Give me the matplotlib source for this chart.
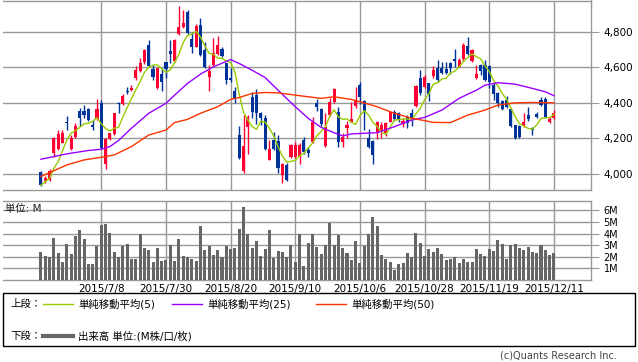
import matplotlib
matplotlib.use("Agg")
import matplotlib.pyplot as plt
from matplotlib.lines import Line2D
from matplotlib.patches import Rectangle
import numpy as np
import pandas as pd

plt.rcParams['font.family'] = ['DejaVu Sans', 'Noto Sans CJK JP']

# ---------- data (120 trading days, 2015/6/18 - 2015/12/11) ---------- #
opens = [4012, 3958, 3967, 4120, 4139, 4176, 4292, 4141, 4210, 4354,
         4354, 4363, 4275, 4311, 4397, 4057, 4195, 4225, 4400, 4395,
         4465, 4470, 4542, 4579, 4628, 4723, 4588, 4483, 4561, 4628,
         4690, 4636, 4785, 4826, 4910, 4761, 4716, 4838, 4695, 4543,
         4611, 4677, 4703, 4621, 4539, 4468, 4219, 4014, 4266, 4434,
         4444, 4344, 4313, 4079, 4191, 4188, 3997, 4052, 4096, 4096,
         4100, 4191, 4132, 4182, 4397, 4363, 4158, 4331, 4406, 4350,
         4182, 4260, 4294, 4382, 4499, 4412, 4201, 4188, 4229, 4247,
         4229, 4294, 4350, 4341, 4282, 4322, 4344, 4383, 4537, 4487,
         4509, 4550, 4593, 4593, 4589, 4626, 4649, 4602, 4649, 4718,
         4636, 4537, 4611, 4611, 4606, 4499, 4453, 4412, 4415, 4363,
         4275, 4270, 4270, 4331, 4257, 4335, 4415, 4419, 4294, 4313]
highs = [4015, 3990, 4027, 4210, 4247, 4247, 4326, 4219, 4289, 4369,
         4388, 4369, 4302, 4423, 4415, 4201, 4233, 4345, 4405, 4450,
         4490, 4500, 4605, 4654, 4705, 4751, 4611, 4597, 4598, 4628,
         4755, 4757, 4942, 4923, 4919, 4798, 4841, 4879, 4742, 4611,
         4765, 4774, 4714, 4625, 4593, 4487, 4270, 4331, 4331, 4462,
         4475, 4350, 4331, 4191, 4234, 4219, 4061, 4061, 4170, 4180,
         4172, 4210, 4154, 4318, 4419, 4369, 4341, 4425, 4481, 4378,
         4229, 4300, 4406, 4487, 4518, 4415, 4251, 4191, 4300, 4294,
         4294, 4355, 4359, 4350, 4313, 4331, 4363, 4500, 4583, 4555,
         4513, 4606, 4640, 4630, 4630, 4630, 4705, 4654, 4736, 4770,
         4705, 4611, 4617, 4640, 4611, 4518, 4462, 4415, 4438, 4369,
         4275, 4275, 4341, 4374, 4266, 4350, 4432, 4432, 4326, 4359]
lows = [3935, 3949, 3958, 4094, 4135, 4172, 4245, 4137, 4202, 4267,
        4313, 4300, 4245, 4303, 4143, 4029, 4190, 4220, 4340, 4390,
        4450, 4467, 4531, 4575, 4620, 4606, 4531, 4477, 4467, 4538,
        4621, 4630, 4780, 4823, 4788, 4681, 4711, 4664, 4593, 4468,
        4606, 4668, 4658, 4508, 4518, 4400, 4085, 4008, 4110, 4313,
        4281, 4275, 4137, 4076, 4135, 4005, 3949, 3958, 4090, 4088,
        4055, 4113, 4098, 4176, 4356, 4270, 4154, 4326, 4400, 4154,
        4150, 4201, 4294, 4369, 4393, 4247, 4145, 4057, 4195, 4201,
        4215, 4290, 4300, 4290, 4264, 4257, 4270, 4375, 4444, 4481,
        4412, 4537, 4518, 4561, 4561, 4561, 4602, 4600, 4636, 4668,
        4630, 4533, 4556, 4522, 4486, 4415, 4378, 4359, 4369, 4266,
        4195, 4205, 4262, 4300, 4219, 4313, 4382, 4313, 4289, 4307]
closes = [3937, 3975, 4014, 4201, 4225, 4232, 4286, 4204, 4270, 4317,
          4331, 4303, 4262, 4367, 4147, 4199, 4231, 4341, 4395, 4438,
          4460, 4485, 4587, 4624, 4695, 4609, 4545, 4593, 4518, 4592,
          4677, 4752, 4826, 4847, 4792, 4711, 4832, 4668, 4602, 4580,
          4680, 4725, 4662, 4531, 4531, 4419, 4089, 4158, 4318, 4350,
          4341, 4313, 4141, 4139, 4141, 4033, 4055, 3964, 4163, 4165,
          4162, 4126, 4117, 4294, 4378, 4281, 4262, 4406, 4475, 4182,
          4210, 4275, 4309, 4415, 4430, 4350, 4154, 4104, 4294, 4275,
          4289, 4350, 4307, 4303, 4300, 4286, 4313, 4492, 4457, 4543,
          4449, 4584, 4528, 4565, 4568, 4593, 4636, 4643, 4723, 4677,
          4695, 4561, 4580, 4528, 4518, 4449, 4401, 4363, 4374, 4270,
          4201, 4210, 4294, 4307, 4247, 4322, 4387, 4318, 4307, 4341]
# volume in millions
volume = [2.44, 2.07, 1.98, 3.65, 2.33, 1.58, 3.10, 2.24, 3.82, 4.34,
          3.56, 1.41, 1.41, 2.96, 4.74, 4.83, 4.05, 2.41, 1.95, 2.96,
          3.10, 1.84, 1.84, 3.97, 2.79, 2.59, 1.58, 2.79, 1.67, 1.72,
          3.02, 1.64, 3.56, 2.07, 1.98, 1.84, 1.64, 4.66, 2.59, 2.96,
          2.16, 2.59, 1.95, 2.96, 2.67, 2.79, 4.43, 6.29, 3.97, 2.79,
          3.36, 2.07, 2.67, 4.34, 1.93, 2.50, 2.41, 2.01, 3.02, 1.55,
          3.97, 1.21, 3.19, 3.97, 2.84, 2.24, 3.02, 4.91, 3.02, 3.88,
          2.79, 2.33, 1.72, 3.36, 1.44, 2.96, 3.97, 5.43, 4.66, 2.16,
          1.81, 1.55, 0.89, 1.38, 1.47, 2.33, 1.98, 4.02, 3.19, 2.07,
          2.67, 2.41, 2.76, 2.24, 1.72, 1.81, 1.98, 1.47, 1.81, 1.55,
          1.55, 2.67, 2.24, 2.07, 2.67, 2.50, 3.45, 3.10, 1.81, 3.02,
          3.10, 2.76, 2.59, 2.84, 2.41, 2.33, 3.02, 2.59, 2.16, 2.33]

# moving averages 25/50 (day index, value)
ma25_day = [0, 6, 11, 14, 16, 18, 21, 25, 29, 31, 34, 37, 40, 44, 46, 49, 52, 55, 59,
            62, 65, 68, 70, 72, 75, 78, 82, 86, 89, 93, 97, 101, 103, 106, 110, 114, 117, 119]
ma25 = [4083, 4113, 4132, 4139, 4154, 4188, 4257, 4341, 4397, 4443, 4509, 4561, 4602,
        4643, 4621, 4583, 4542, 4471, 4378, 4313, 4262, 4232, 4214, 4225, 4229, 4232,
        4266, 4303, 4318, 4359, 4425, 4471, 4499, 4513, 4505, 4481, 4462, 4440]
ma50_day = [0, 6, 10, 14, 17, 21, 25, 29, 31, 34, 37, 41, 44, 46, 49, 52, 55, 59, 62,
            65, 68, 72, 74, 78, 82, 86, 89, 91, 95, 99, 103, 106, 110, 114, 119]
ma50 = [3986, 4051, 4079, 4094, 4107, 4154, 4219, 4247, 4289, 4307, 4341, 4378, 4419,
        4430, 4453, 4458, 4456, 4443, 4434, 4425, 4434, 4419, 4406, 4378, 4341, 4313,
        4300, 4290, 4289, 4331, 4359, 4387, 4400, 4402, 4400]

tick_labels = ["2015/7/8", "2015/7/30", "2015/8/20", "2015/9/10",
               "2015/10/6", "2015/10/28", "2015/11/19", "2015/12/11"]
price_ticks = [4000, 4200, 4400, 4600, 4800]
vol_ticks = [1, 2, 3, 4, 5, 6]

# ---------- styles ---------- #
UP, DOWN = '#ff0033', '#003399'
GRID = '#999999'
C5, C25, C50 = '#99cc00', '#9900ff', '#ff3300'

n = len(closes)
x = np.arange(n)
o, h, l, c = map(np.array, (opens, highs, lows, closes))
ma5 = pd.Series(closes).rolling(5, min_periods=1).mean()

W, H = 638, 362
fig = plt.figure(figsize=(W / 100, H / 100), dpi=100)


def px_axes(x0, y0, x1, y1):
    return fig.add_axes([x0 / W, 1 - y1 / H, (x1 - x0) / W, (y1 - y0) / H])


def fx(px):
    return px / W


def fy(py):
    return 1 - py / H


ax = px_axes(3, 0.5, 591, 190)
axv = px_axes(3, 201, 591, 280)
xticks = np.arange(14, n, 15)

for a in (ax, axv):
    a.set_xlim(-8.8, 127.6)
    a.set_xticks(xticks)
    a.grid(True, color=GRID, lw=1)
    a.set_axisbelow(True)
    a.spines['left'].set_visible(False)
    for s in ('top', 'right', 'bottom'):
        a.spines[s].set_color(GRID)
        a.spines[s].set_linewidth(1)
    a.yaxis.tick_right()
    a.tick_params(axis='y', length=6, color=GRID, pad=3, labelsize=7.5)
    a.tick_params(axis='x', length=0)

# ---------- candles ---------- #
up = c >= o
col = np.where(up, UP, DOWN)
ax.vlines(x, l, h, colors=col, lw=1, zorder=2)
body = np.maximum(np.abs(c - o), 3)
ax.bar(x, body, bottom=np.minimum(o, c), width=0.72, color=col, lw=0, zorder=3)

ax.plot(x, ma5, color=C5, lw=1, zorder=4)
ax.plot(ma25_day, ma25, color=C25, lw=1, zorder=4)
ax.plot(ma50_day, ma50, color=C50, lw=1, zorder=4)

ax.set_ylim(3910, 4975)
ax.set_yticks(price_ticks)
ax.set_yticklabels([f"{v:,}" for v in price_ticks])
ax.set_xticklabels([])

# ---------- volume ---------- #
axv.bar(x, volume, width=0.7, color='#666666', lw=0, zorder=3)
axv.set_ylim(0, 6.8)
axv.set_yticks(vol_ticks)
axv.set_yticklabels([f"{v}M" for v in vol_ticks])
axv.tick_params(axis='y', labelsize=7)
axv.set_xticklabels(tick_labels, fontsize=7.5)
axv.tick_params(axis='x', pad=3)
axv.text(0.004, 0.9, "単位: M", transform=axv.transAxes, fontsize=7.5,
         va='center', ha='left', color='#222222')

# ---------- legend box ---------- #
fig.patches.append(Rectangle((fx(3), fy(346)), fx(632), 53 / H, transform=fig.transFigure,
                             fill=False, ec='black', lw=1))
ty1, ty2 = fy(304), fy(336)
fig.text(fx(10), ty1, "上段：", fontsize=7.5, va='center')
fig.text(fx(10), ty2, "下段：", fontsize=7.5, va='center')
for x0, colr, label in [(43, C5, "単純移動平均(5)"),
                        (172, C25, "単純移動平均(25)"),
                        (316, C50, "単純移動平均(50)")]:
    fig.lines.append(Line2D([fx(x0), fx(x0 + 30)], [ty1, ty1], transform=fig.transFigure,
                            color=colr, lw=1))
    fig.text(fx(x0 + 35), ty1, label, fontsize=7.5, va='center')
fig.lines.append(Line2D([fx(43), fx(73)], [ty2, ty2], transform=fig.transFigure,
                        color='#666666', lw=3))
fig.text(fx(78), ty2, "出来高 単位:(M株/口/枚)", fontsize=7.5, va='center')

fig.text(fx(617), fy(356), "(c)Quants Research Inc.", fontsize=7, ha='right',
         va='center', color='#444444')

fig.savefig("out.png", dpi=100)
